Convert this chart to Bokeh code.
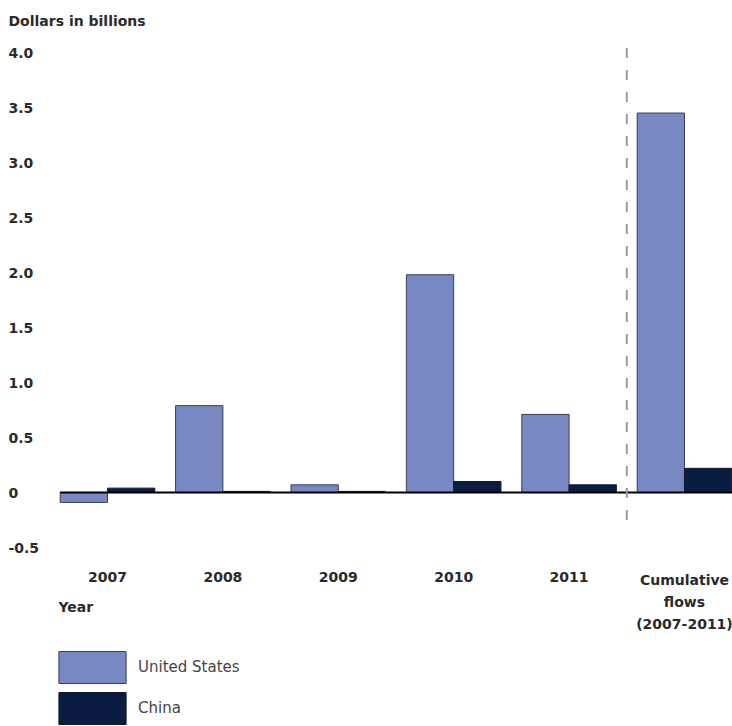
from bokeh.plotting import figure
from bokeh.models import ColumnDataSource, Label, Legend, LegendItem
from bokeh.core.properties import value
from bokeh.embed import file_html
from bokeh.resources import INLINE

# ---- data ----
categories = ["2007", "2008", "2009", "2010", "2011", "Cumulative\nflows\n(2007-2011)"]
us_values = [-0.09, 0.79, 0.07, 1.98, 0.71, 3.45]
china_values = [0.04, 0.01, 0.01, 0.10, 0.07, 0.22]
y_ticks = [-0.5, 0, 0.5, 1.0, 1.5, 2.0, 2.5, 3.0, 3.5, 4.0]
y_tick_labels = ["-0.5", "0", "0.5", "1.0", "1.5", "2.0", "2.5", "3.0", "3.5", "4.0"]
divider_x = 4.5

US_COLOR = "#7788c2"
CN_COLOR = "#0b1c42"
FONT = "DejaVu Sans"
TXT = "#2a2a2a"

W, H = 732, 726
# scale: 115.4 px per category, 110 px per 1.0 dollars
x_start, x_end = -0.927, 5.416
y_start, y_end = -2.127, 4.473

xs = list(range(len(categories)))
bw = 0.41
src = ColumnDataSource(dict(x_us=[x - bw / 2 for x in xs], x_cn=[x + bw / 2 for x in xs],
                            us=us_values, cn=china_values))

p = figure(width=W, height=H, x_range=(x_start, x_end), y_range=(y_start, y_end),
           output_backend="svg", toolbar_location=None,
           min_border_left=0, min_border_right=0, min_border_top=0, min_border_bottom=0)
p.outline_line_color = None
p.grid.visible = False
p.axis.visible = False
p.background_fill_color = "white"

r_us = p.vbar(x="x_us", top="us", bottom=0, width=bw, source=src,
              fill_color=US_COLOR, line_color="#3a3f55", line_width=1)
r_cn = p.vbar(x="x_cn", top="cn", bottom=0, width=bw, source=src,
              fill_color=CN_COLOR, line_color="#111a30", line_width=1)

# zero line
p.segment(x0=[-bw], y0=[0], x1=[x_end], y1=[0], line_color="black", line_width=2)

# divider dashed line
p.segment(x0=[divider_x], y0=[-0.25], x1=[divider_x], y1=[4.09],
          line_color="#9a9a9a", line_width=2, line_dash="10 12")

# category labels
csrc = ColumnDataSource(dict(x=xs, y=[-0.72] * len(xs), t=categories))
p.text(x="x", y="y", text="t", source=csrc, text_align="center", text_baseline="top",
       text_font=value(FONT), text_font_style="bold", text_font_size="14px",
       text_color=TXT, text_line_height=1.38)

# y tick labels, left aligned
ysrc = ColumnDataSource(dict(y=y_ticks, t=y_tick_labels, x=[x_start] * len(y_ticks)))
p.text(x="x", y="y", text="t", source=ysrc, x_offset=8,
       text_align="left", text_baseline="middle",
       text_font=value(FONT), text_font_style="bold",
       text_font_size="14px", text_color=TXT)

p.add_layout(Label(x=x_start, y=4.29, x_offset=8, text="Dollars in billions",
                   text_align="left", text_baseline="middle", text_font=FONT,
                   text_font_style="bold", text_font_size="14px", text_color=TXT))
p.add_layout(Label(x=x_start, y=-1.045, x_offset=58, text="Year",
                   text_align="left", text_baseline="middle", text_font=FONT,
                   text_font_style="bold", text_font_size="14px", text_color=TXT))

legend = Legend(items=[LegendItem(label="United States", renderers=[r_us]),
                       LegendItem(label="China", renderers=[r_cn])],
                location=(50, -2), glyph_width=84, glyph_height=40, spacing=1,
                label_standoff=4, padding=0, margin=0, border_line_color=None,
                background_fill_alpha=0, label_text_font=FONT, label_text_font_size="15px",
                label_text_color="#444444", label_height=40)
p.add_layout(legend)

open("out.html", "w").write(file_html(p, INLINE))
